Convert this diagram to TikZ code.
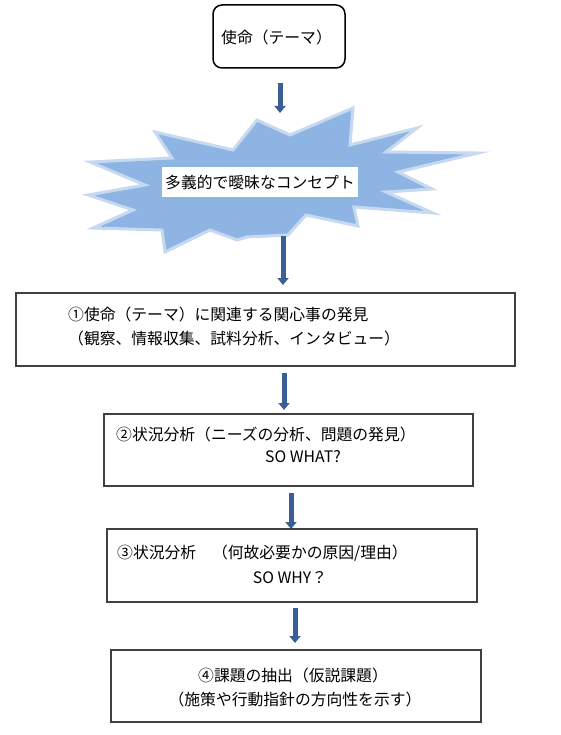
\documentclass[tikz,border=0pt]{standalone}
\usepackage{fontspec}
\setmainfont{Noto Sans CJK JP}
\usetikzlibrary{arrows.meta}
\definecolor{starfill}{HTML}{8DB4E2}
\definecolor{starline}{HTML}{C6D9F1}
\definecolor{arrowblue}{HTML}{3A5F96}
\definecolor{boxline}{HTML}{404040}
\tikzset{
  flowbox/.style={draw=boxline, line width=1.2pt, fill=white},
  txt/.style={inner sep=0pt, font=\fontsize{15.8}{18}\selectfont},
  downarrow/.style={draw=arrowblue, line width=5pt, -{Triangle[width=11pt,length=7pt]}},
}
\begin{document}
\begin{tikzpicture}[x=1pt,y=-1pt]
\useasboundingbox (0,0) rectangle (560,735);
% top box
\draw[line width=1.5pt, rounded corners=9pt] (213,5) rectangle (345,68);
\node[txt, anchor=west] (mission) at (221,37) {使命（テーマ）};
% star
\draw[fill=starfill, draw=starline, line width=3pt, line join=miter]
 (257,120) -- (290,135) -- (353,108) -- (350,145) -- (417,128) -- (386,152)
 -- (478,153) -- (398,172) -- (432,189) -- (386,192) -- (433,213) -- (354,207)
 -- (358,226) -- (306,215) -- (288,235) -- (247,237) -- (237,240) -- (210,230)
 -- (165,252) -- (162,230) -- (93,228) -- (133,210) -- (88,195) -- (145,185)
 -- (90,162) -- (172,158) -- (155,132) -- (233,150) -- cycle;
\node[txt, fill=white, minimum width=196pt, minimum height=30pt] (concept) at (260,182) {多義的で曖昧なコンセプト};
% box 1
\draw[flowbox] (16,293) rectangle (515,366);
\node[txt, anchor=west] (b1a) at (68,314) {①使命（テーマ）に関連する関心事の発見};
\node[txt, anchor=west] (b1b) at (68,338) {（観察、情報収集、試料分析、インタビュー）};
% box 2
\draw[flowbox] (104,414) rectangle (473,486);
\node[txt, anchor=west] (b2a) at (116,434) {②状況分析（ニーズの分析、問題の発見）};
\node[txt] (b2b) at (303,457) {SO WHAT?};
% box 3
\draw[flowbox] (107,529) rectangle (477,602);
\node[txt, anchor=west] (b3a) at (117,553) {③状況分析　（何故必要かの原因/理由）};
\node[txt] (b3b) at (290,578) {SO WHY？};
% box 4
\draw[flowbox] (111,650) rectangle (481,722);
\node[txt] (b4a) at (293,675) {④課題の抽出（仮説課題）};
\node[txt] (b4b) at (295,699) {（施策や行動指針の方向性を示す）};
% arrows
\coordinate (a1s) at (280,83);  \coordinate (a1e) at (280,113);
\coordinate (a2s) at (283,236); \coordinate (a2e) at (283,285);
\coordinate (a3s) at (284,373); \coordinate (a3e) at (284,410);
\coordinate (a4s) at (291,493); \coordinate (a4e) at (291,529);
\coordinate (a5s) at (295,608); \coordinate (a5e) at (295,643);
\draw[downarrow] (a1s) -- (a1e);
\draw[downarrow] (a2s) -- (a2e);
\draw[downarrow] (a3s) -- (a3e);
\draw[downarrow] (a4s) -- (a4e);
\draw[downarrow] (a5s) -- (a5e);
\end{tikzpicture}
\end{document}
